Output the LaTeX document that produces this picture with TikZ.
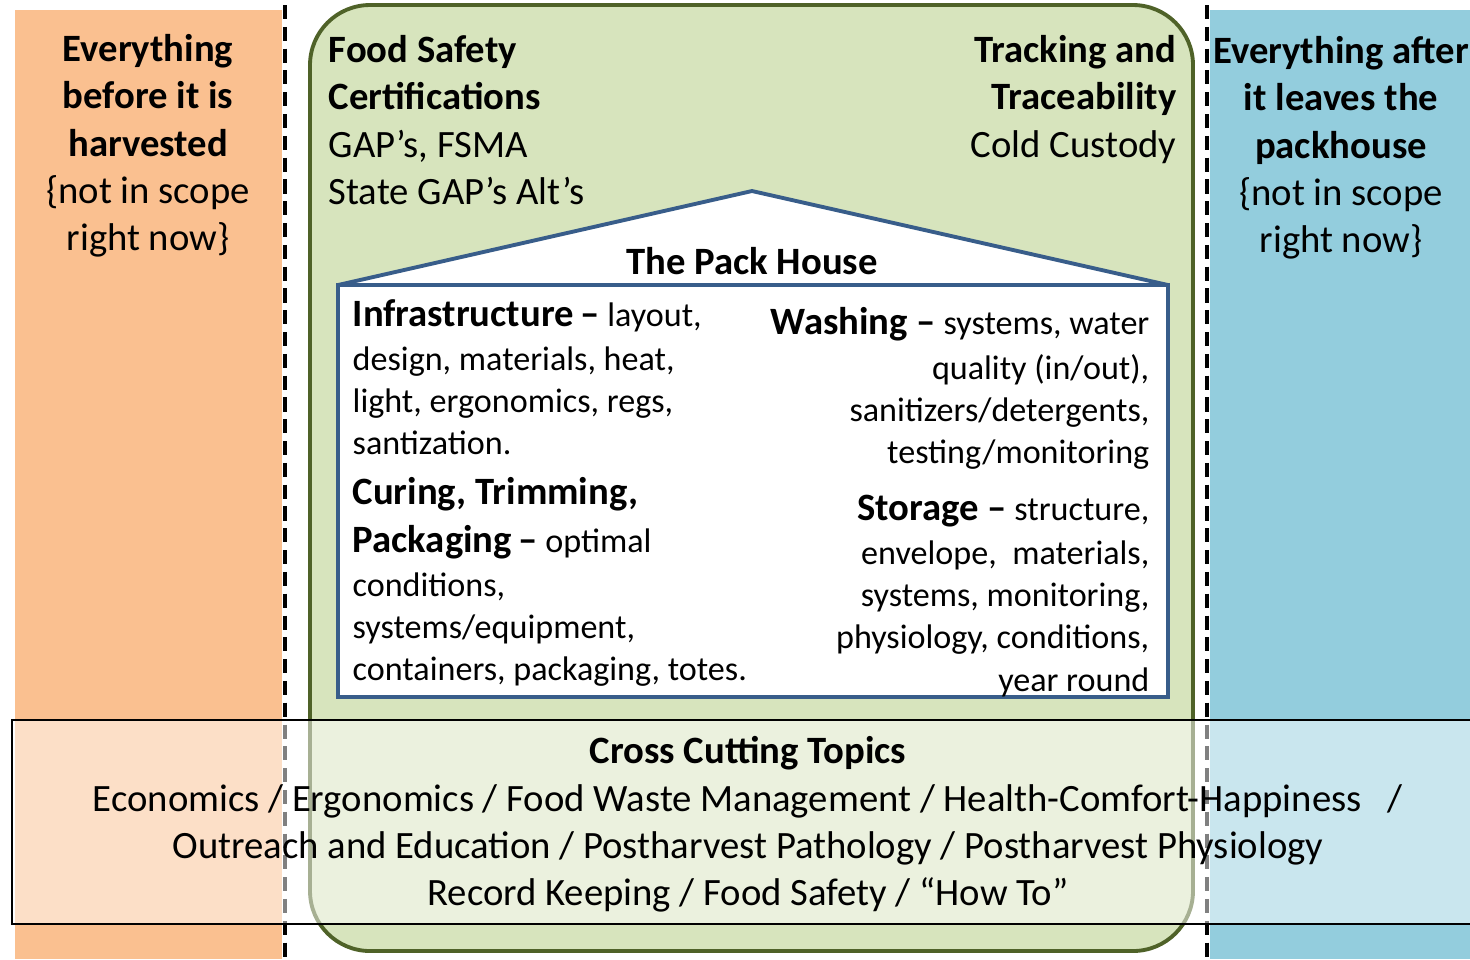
\documentclass[tikz,border=0pt]{standalone}
\usepackage{fontspec}
\setmainfont{Carlito}
\usepackage{tikz}

\definecolor{peach}{HTML}{FAC090}
\definecolor{leaf}{HTML}{D7E4BD}
\definecolor{olive}{HTML}{4F6228}
\definecolor{aqua}{HTML}{93CDDD}
\definecolor{roofblue}{HTML}{385D8A}

\newcommand{\bigtxt}{\fontsize{11}{13.4}\selectfont}
\newcommand{\smalltxt}{\fontsize{9.7}{11.95}\selectfont}
\newcommand{\hd}[1]{{\fontsize{11}{11.95}\selectfont\bfseries #1}}

\begin{document}
\begin{tikzpicture}[x=0.01cm, y=-0.01cm, inner sep=0pt,
  divider/.style={line width=1.3pt, dash pattern=on 4pt off 2.2pt},
  big/.style={font=\bigtxt},
  small/.style={font=\smalltxt}]
\useasboundingbox (0,0) rectangle (1470,959);
% side panels and dividers
\fill[peach] (15,10) rectangle (282,959);
\fill[aqua] (1210,10) rectangle (1470,959);
\draw[divider] (285,5) -- (285,959);
\draw[divider] (1207,5) -- (1207,959);
% packhouse scope
\draw[olive, line width=1.1pt, fill=leaf, rounded corners=0.6cm] (310,5) rectangle (1193,951);
% the house
\draw[roofblue, line width=1.1pt, fill=white, line join=round] (338,285) -- (752,191) -- (1168,285) -- cycle;
\draw[roofblue, line width=1.1pt, fill=white] (338,285) rectangle (1168,697);

\node (before) at (148,34) [big, anchor=north, align=center] {\bfseries Everything\\ \bfseries before it is\\ \bfseries harvested\\ \{not in scope\\ right now\}};
\node (after) at (1341,36) [big, anchor=north, align=center] {\bfseries Everything after\\ \bfseries it leaves the\\ \bfseries packhouse\\ \{not in scope\\ right now\}};
\node (cert) at (328,35) [big, anchor=north west, align=left] {\bfseries Food Safety\\ \bfseries Certifications\\ GAP’s, FSMA\\ State GAP’s Alt’s};
\node (track) at (1177,35) [big, anchor=north east, align=right] {\bfseries Tracking and\\ \bfseries Traceability\\ Cold Custody};
\node (house) at (752,274) [big, anchor=base] {\bfseries The Pack House};

\node (infra) at (352,299) [small, anchor=north west, align=left] {\hd{Infrastructure\,–} layout,\\[0.6pt] design, materials, heat,\\ light, ergonomics, regs,\\ santization.};
\node (curing) at (352,477) [small, anchor=north west, align=left] {\hd{Curing, Trimming,}\\[1.5pt] \hd{Packaging\,–} optimal\\[0.6pt] conditions,\\ systems/equipment,\\ containers, packaging, totes.};
\node (washing) at (1150,307) [small, anchor=north east, align=right] {\hd{Washing –} systems, water\\[0.6pt] quality (in/out),\\ sanitizers/detergents,\\ testing/monitoring};
\node (storage) at (1150,494) [small, anchor=north east, align=right] {\hd{Storage –} structure,\\[0.8pt] envelope,~ materials,\\ systems, monitoring,\\ physiology, conditions,\\ year round};

% cross cutting band
\fill[white, opacity=0.5] (12,720) rectangle (1470,924);
\draw[line width=0.5pt] (1470,720) -- (12,720) -- (12,924) -- (1470,924);
\node (cross) at (748,736) [big, anchor=north, align=center] {\bfseries Cross Cutting Topics\\ Economics / Ergonomics / Food Waste Management / Health-Comfort-Happiness~~~/\\ Outreach and Education / Postharvest Pathology / Postharvest Physiology\\ Record Keeping / Food Safety / “How To”};
\end{tikzpicture}
\end{document}
